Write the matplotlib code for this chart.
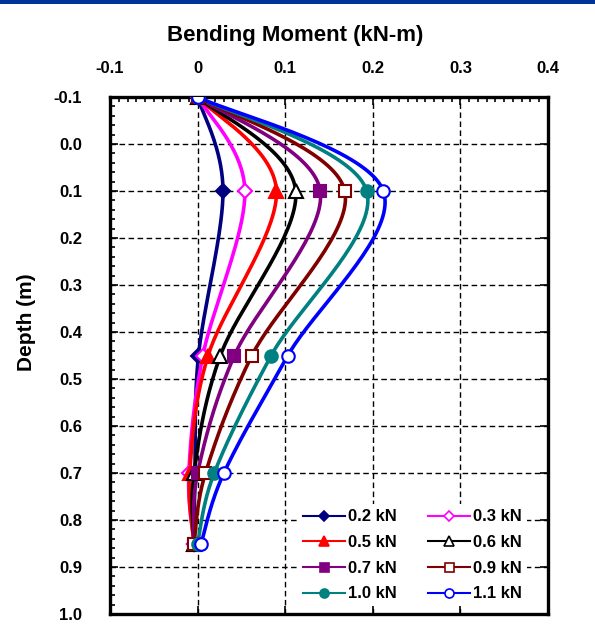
import numpy as np
import matplotlib
matplotlib.use("Agg")
import matplotlib.pyplot as plt
from matplotlib.patches import Rectangle
from matplotlib.ticker import MultipleLocator

plt.rcParams['font.family'] = ['Liberation Sans', 'DejaVu Sans']
plt.rcParams['font.weight'] = 'bold'

depth = [-0.1, 0.1, 0.45, 0.7, 0.85]
labels = ['0.2 kN', '0.3 kN', '0.5 kN', '0.6 kN', '0.7 kN', '0.9 kN', '1.0 kN', '1.1 kN']
m_02 = [0.0, 0.029, 0.001, -0.003, -0.004]
m_03 = [0.0, 0.054, 0.006, -0.010, -0.004]
m_05 = [0.0, 0.090, 0.012, -0.009, -0.004]
m_06 = [0.0, 0.112, 0.026, -0.004, -0.004]
m_07 = [0.0, 0.140, 0.042, 0.000, -0.004]
m_09 = [0.0, 0.168, 0.062, 0.009, -0.004]
m_10 = [0.0, 0.193, 0.084, 0.019, 0.000]
m_11 = [0.0, 0.212, 0.103, 0.030, 0.004]
series = [m_02, m_03, m_05, m_06, m_07, m_09, m_10, m_11]

colors = ['#000080', '#FF00FF', '#FF0000', '#000000', '#800080', '#800000', '#008080', '#0000FF']
markers = ['D', 'D', '^', '^', 's', 's', 'o', 'o']
faces = ['#000080', 'white', '#FF0000', 'white', '#800080', 'white', '#008080', 'white']
msizes = [7.5, 7.5, 9.5, 9.5, 9, 9, 9, 9]


def smooth(x, y, n=40):
    # Excel-like smoothed line (Catmull-Rom / Bezier)
    P = np.column_stack([x, y]).astype(float)
    P = np.vstack([P[0], P, P[-1]])
    out = []
    for i in range(1, len(P) - 2):
        p0, p1, p2, p3 = P[i - 1], P[i], P[i + 1], P[i + 2]
        c1 = p1 + (p2 - p0) / 6.0
        c2 = p2 - (p3 - p1) / 6.0
        t = np.linspace(0, 1, n)[:, None]
        b = ((1 - t) ** 3) * p1 + 3 * ((1 - t) ** 2) * t * c1 + 3 * (1 - t) * t ** 2 * c2 + t ** 3 * p2
        out.append(b if i == 1 else b[1:])
    B = np.vstack(out)
    return B[:, 0], B[:, 1]


fig = plt.figure(figsize=(5.95, 6.38), dpi=100)
fig.patches.append(Rectangle((0, 1 - 4 / 638), 1, 4 / 638, transform=fig.transFigure,
                             facecolor='#003399', edgecolor='none'))
ax = fig.add_axes([110 / 595, 1 - 614 / 638, 438 / 595, 517 / 638])

handles = []
for vals, c, mk, fc, ms, lab in zip(series, colors, markers, faces, msizes, labels):
    sx, sy = smooth(vals, depth)
    ax.plot(sx, sy, color=c, lw=2.6, zorder=3)
    ax.plot(vals, depth, linestyle='none', marker=mk, ms=ms, mfc=fc, mec=c, mew=1.5, zorder=4)
    h, = ax.plot([], [], color=c, lw=1.5, marker=mk, ms=ms * 0.72, mfc=fc, mec=c, mew=1.2, label=lab)
    handles.append(h)

ax.set_xlim(-0.1, 0.4)
ax.set_ylim(1.0, -0.1)
ax.xaxis.set_major_locator(MultipleLocator(0.1))
ax.xaxis.set_minor_locator(MultipleLocator(0.01))
ax.yaxis.set_major_locator(MultipleLocator(0.1))
ax.yaxis.set_minor_locator(MultipleLocator(0.02))
ax.xaxis.tick_top()
ax.xaxis.set_label_position('top')
ax.tick_params(which='both', direction='in', top=True, bottom=True, left=True, right=True,
               labelsize=12, width=1.2, labelbottom=False, labelright=False, labeltop=True, labelleft=True)
ax.tick_params(which='major', length=6)
ax.tick_params(which='minor', length=3.5, bottom=False, right=False)
ax.tick_params(axis='x', which='major', pad=15)
ax.tick_params(axis='y', which='major', pad=20)

ax.xaxis.set_major_formatter(matplotlib.ticker.FuncFormatter(lambda v, p: '0' if abs(v) < 1e-9 else f'{v:.1f}'))
ax.yaxis.set_major_formatter(matplotlib.ticker.FuncFormatter(lambda v, p: f'{v:.1f}'))
for lbl in ax.get_xticklabels() + ax.get_yticklabels():
    lbl.set_fontweight('bold')

ax.grid(True, which='major', color='black', linestyle=(0, (4, 2.5)), linewidth=1.0)
ax.set_axisbelow(True)
for s in ax.spines.values():
    s.set_linewidth(2.4)

ax.set_xlabel('Bending Moment (kN-m)', fontsize=16, fontweight='bold')
ax.xaxis.set_label_coords(0.422, 1.108)
ax.set_ylabel('Depth (m)', fontsize=15, fontweight='bold')
ax.yaxis.set_label_coords(-0.168, 0.565)

order = [0, 2, 4, 6, 1, 3, 5, 7]
leg = ax.legend([handles[i] for i in order], [labels[i] for i in order], ncol=2,
                loc='upper left', bbox_to_anchor=(0.429, 0.212), frameon=True, fancybox=False,
                framealpha=1, facecolor='white', edgecolor='none', fontsize=12,
                handlelength=2.5, handletextpad=0.2, columnspacing=1.9, labelspacing=0.64,
                borderpad=0.3, borderaxespad=0)
leg.set_zorder(5)
for t in leg.get_texts():
    t.set_fontweight('bold')

fig.savefig('out.png', dpi=100)
